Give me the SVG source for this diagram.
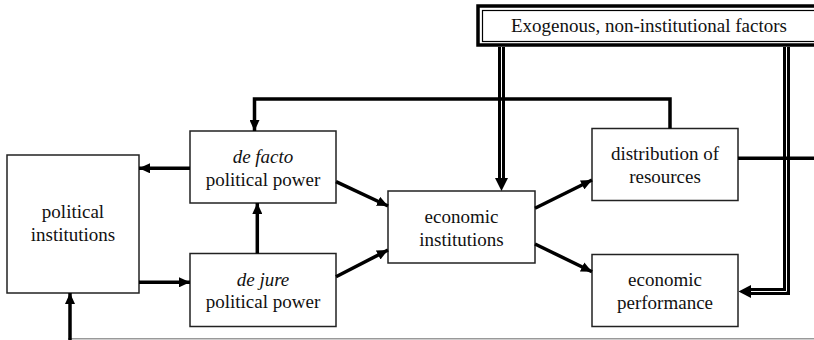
<svg xmlns="http://www.w3.org/2000/svg" width="814" height="340" viewBox="0 0 814 340">
<defs>
<marker id="ah" markerUnits="userSpaceOnUse" markerWidth="11" markerHeight="10" refX="11" refY="5" orient="auto">
<path d="M0,0 L11,5 L0,10 z" fill="#000"/>
</marker>
<style>
.box{fill:#fff;stroke:#222;stroke-width:1.5}
.t{font-family:'Liberation Serif','Times New Roman','DejaVu Serif',serif;font-size:19px;fill:#111;text-anchor:middle}
.i{font-style:italic}
.a{fill:none;stroke:#000;stroke-width:3.5;marker-end:url(#ah)}
.l{fill:none;stroke:#000;stroke-width:3.5}
.d{fill:none;stroke:#000;stroke-width:7}
.dc{fill:none;stroke:#fff;stroke-width:1}
</style>
</defs>
<rect width="814" height="340" fill="#fff"/>
<g id="exogenous">
<rect x="478" y="6" width="345" height="39" fill="#fff" stroke="#000" stroke-width="3.5"/>
<rect x="482.5" y="10.5" width="345" height="31" fill="none" stroke="#000" stroke-width="1.2"/>
<text class="t" x="649" y="32">Exogenous, non-institutional factors</text>
</g>
<g id="political-institutions">
<rect class="box" x="7" y="155" width="132" height="138"/>
<text class="t" x="73" y="218">political</text>
<text class="t" x="73" y="240.5">institutions</text>
</g>
<g id="de-facto">
<rect class="box" x="190" y="131" width="146" height="72"/>
<text class="t i" x="263" y="163">de facto</text>
<text class="t" x="263" y="185.5">political power</text>
</g>
<g id="de-jure">
<rect class="box" x="190" y="253.5" width="146" height="73"/>
<text class="t i" x="263" y="285.5">de jure</text>
<text class="t" x="263" y="308">political power</text>
</g>
<g id="economic-institutions">
<rect class="box" x="388" y="191" width="147" height="72"/>
<text class="t" x="461.5" y="223">economic</text>
<text class="t" x="461.5" y="245.5">institutions</text>
</g>
<g id="distribution">
<rect class="box" x="592" y="128.5" width="146" height="72"/>
<text class="t" x="665" y="159.5">distribution of</text>
<text class="t" x="665" y="182.5">resources</text>
</g>
<g id="performance">
<rect class="box" x="592" y="254.5" width="146" height="72"/>
<text class="t" x="665" y="286">economic</text>
<text class="t" x="665" y="308.5">performance</text>
</g>
<g id="connectors">
<line x1="68" y1="338.7" x2="814" y2="338.7" stroke="#999" stroke-width="1.5"/>
<line class="a" x1="70" y1="340" x2="70" y2="293"/>
<line class="a" x1="190" y1="168.3" x2="139" y2="168.3"/>
<line class="a" x1="139" y1="282.3" x2="190" y2="282.3"/>
<line class="a" x1="257.3" y1="253.5" x2="257.3" y2="203"/>
<line class="a" x1="336" y1="181.7" x2="388" y2="206"/>
<line class="a" x1="336" y1="276.7" x2="388" y2="250"/>
<line class="a" x1="535" y1="208.3" x2="592" y2="180"/>
<line class="a" x1="535" y1="244" x2="592" y2="271.7"/>
<path class="d" d="M501.5,47 V178"/>
<path class="dc" d="M501.5,47 V180"/>
<path d="M495,178 L508,178 L501.5,191 z" fill="#000"/>
<path class="d" d="M786.5,47 V291.5 H751"/>
<path class="dc" d="M786.5,47 V291.5 H749"/>
<path d="M751,285 L751,298 L738.5,291.5 z" fill="#000"/>
<path class="l" d="M738,158.3 H814"/>
<path class="a" d="M670,128.5 V99 H254.5 V131"/>
</g>
</svg>
